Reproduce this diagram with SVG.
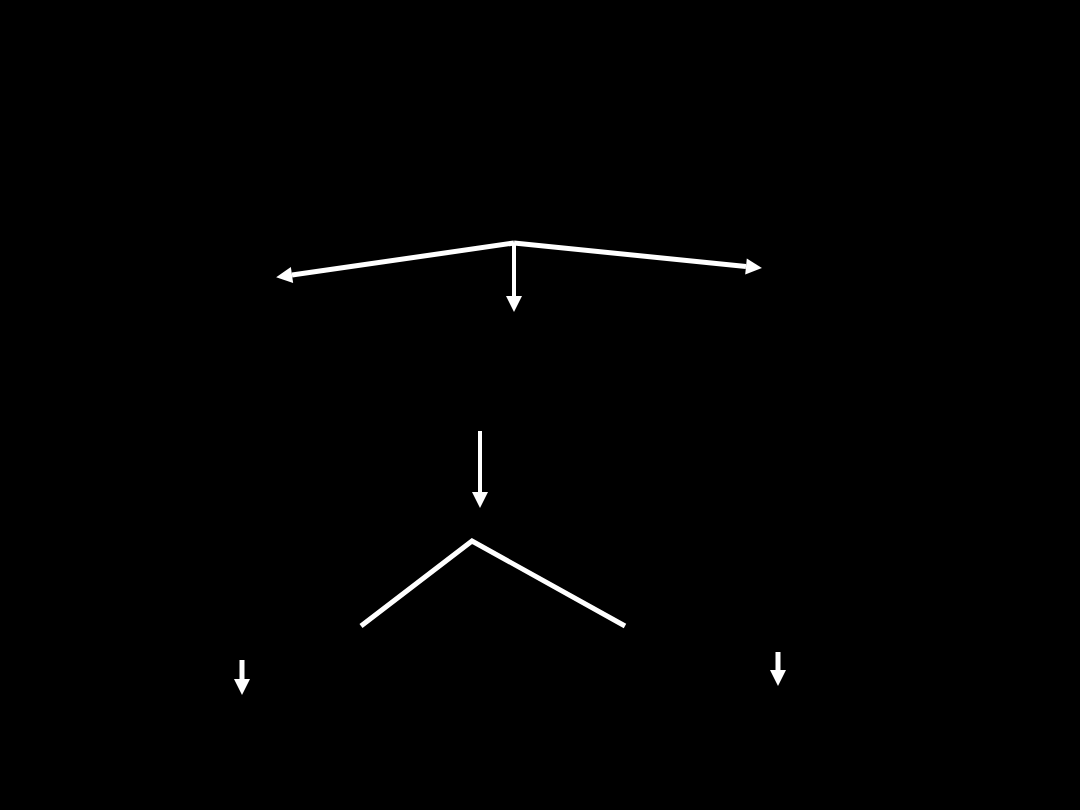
<svg xmlns="http://www.w3.org/2000/svg" width="1080" height="810" viewBox="0 0 1080 810">
  <defs>
    <marker id="ah" markerUnits="userSpaceOnUse" markerWidth="16" markerHeight="16" refX="0" refY="8" orient="auto" overflow="visible">
      <path d="M0,0 L16,8 L0,16 z" fill="#ffffff"/>
    </marker>
    <style>
      .c { stroke: #ffffff; fill: none; stroke-linecap: butt; stroke-linejoin: miter; }
      .w5 { stroke-width: 5; }
      .w4 { stroke-width: 4; }
    </style>
  </defs>
  <rect x="0" y="0" width="1080" height="810" fill="#000000"/>
  <g id="connectors">
    <line id="e-left" class="c w5" x1="514" y1="243" x2="292" y2="275" marker-end="url(#ah)"/>
    <line id="e-right" class="c w5" x1="514" y1="243" x2="746" y2="266.5" marker-end="url(#ah)"/>
    <line id="e-down" class="c w4" x1="514" y1="243" x2="514" y2="296" marker-end="url(#ah)"/>
    <line id="e-mid" class="c w4" x1="480" y1="431" x2="480" y2="492" marker-end="url(#ah)"/>
    <polyline id="e-chevron" class="c w5" points="361,626 472,541 625,626"/>
    <line id="e-small-left" class="c w5" x1="242" y1="660" x2="242" y2="679" marker-end="url(#ah)"/>
    <line id="e-small-right" class="c w5" x1="778" y1="652" x2="778" y2="670" marker-end="url(#ah)"/>
  </g>
</svg>
